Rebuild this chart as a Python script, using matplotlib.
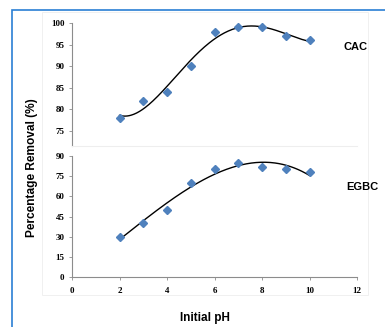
import numpy as np
import matplotlib.pyplot as plt
from matplotlib.patches import Rectangle

# data
ph = [2, 3, 4, 5, 6, 7, 8, 9, 10]
cac = [78, 82, 84, 90, 98, 99, 99, 97, 96]
egbc = [30, 40, 50, 70, 80, 85, 82, 80, 78]
cac_ticks = [75, 80, 85, 90, 95, 100]
egbc_ticks = [0, 15, 30, 45, 60, 75, 90]
x_ticks = [0, 2, 4, 6, 8, 10, 12]

blue = "#4F81BD"
spine = "#8c8c8c"
tickfont = dict(family="Liberation Serif", weight="bold", size=6.5)

fig = plt.figure(figsize=(3.85, 3.27), dpi=100)

# outer frame (blue) and faint plot area box
fig.patches.append(Rectangle((12 / 385, -0.02), 1.1, 1 - 10 / 327 + 0.02,
                             transform=fig.transFigure, fill=False,
                             edgecolor="#2a7fd4", linewidth=1.2))
fig.patches.append(Rectangle((42 / 385, 1 - 295 / 327), 326 / 385, 283 / 327,
                             transform=fig.transFigure, fill=False,
                             edgecolor="#eeeeee", linewidth=0.6))

ax1 = fig.add_axes([72 / 385, 1 - 146 / 327, 285 / 385, 123 / 327])
ax2 = fig.add_axes([72 / 385, 1 - 277 / 327, 285 / 385, 121 / 327])

xs = np.linspace(2, 10, 200)
for ax, y, deg, ticks, ylim in [(ax1, cac, 4, cac_ticks, (71.5, 100)),
                                (ax2, egbc, 3, egbc_ticks, (0, 90))]:
    coef = np.polyfit(ph, y, deg)
    ax.plot(xs, np.polyval(coef, xs), color="black", linewidth=1.0, zorder=2)
    ax.plot(ph, y, linestyle="none", marker="D", markersize=4.2,
            color=blue, zorder=3)
    ax.set_xlim(0, 12)
    ax.set_ylim(*ylim)
    ax.set_yticks(ticks)
    for s in ["top", "right"]:
        ax.spines[s].set_visible(False)
    ax.spines["left"].set_color(spine)
    ax.spines["bottom"].set_color(spine)
    ax.tick_params(axis="y", length=2.5, width=0.6, color=spine, pad=3)
    for lab in ax.get_yticklabels():
        lab.set(**tickfont)

# top panel: no x-axis, light bottom border only
ax1.spines["bottom"].set_color("#eeeeee")
ax1.set_xticks([])

ax2.set_xticks(x_ticks)
ax2.tick_params(axis="x", length=2.5, width=0.6, color=spine, pad=5)
for lab in ax2.get_xticklabels():
    lab.set(**tickfont)

fig.text(356 / 385, 1 - 47 / 327, "CAC", ha="center", va="center",
         fontsize=8, fontweight="bold", family="Liberation Sans")
fig.text(362 / 385, 1 - 187 / 327, "EGBC", ha="center", va="center",
         fontsize=8, fontweight="bold", family="Liberation Sans")
fig.text(32 / 385, 1 - 168 / 327, "Percentage Removal (%)", rotation=90,
         ha="center", va="center", fontsize=8.6, fontweight="bold",
         family="Liberation Sans")
fig.text(205 / 385, 1 - 318 / 327, "Initial pH", ha="center", va="center",
         fontsize=8.5, fontweight="bold", family="Liberation Sans")

fig.savefig("out.png", dpi=100)
